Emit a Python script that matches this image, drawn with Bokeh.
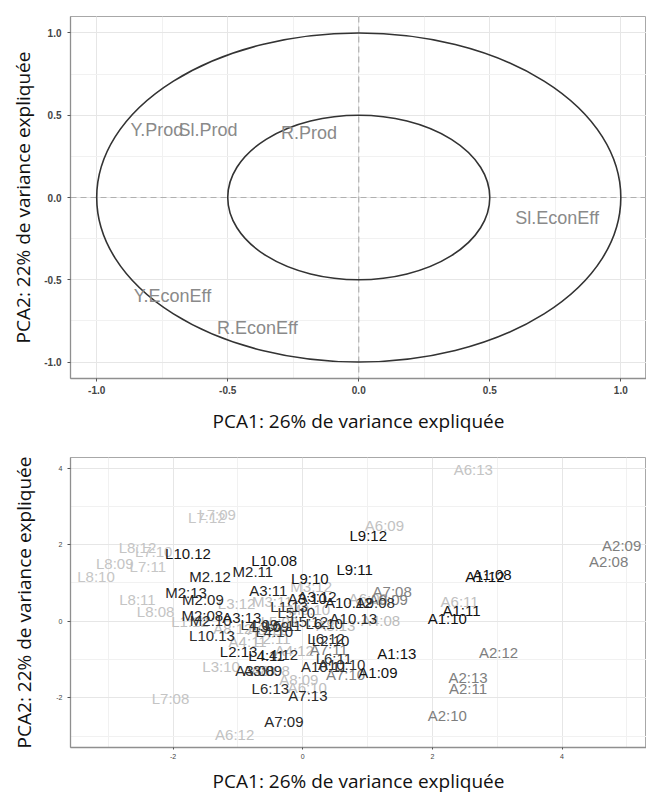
from bokeh.plotting import figure
from bokeh.models import Span, FixedTicker, ColumnDataSource, LinearColorMapper, NumeralTickFormatter
from bokeh.layouts import column
from bokeh.core.properties import value
from bokeh.embed import file_html
from bokeh.resources import INLINE

# ---------------- data ----------------
axis_x_title = "PCA1: 26% de variance expliquée"
axis_y_title = "PCA2: 22% de variance expliquée"

var_labels = ["Y.Prod", "Sl.Prod", "R.Prod", "Sl.EconEff", "Y.EconEff", "R.EconEff"]
var_pc1 = [-0.77, -0.575, -0.19, 0.757, -0.711, -0.387]
var_pc2 = [0.41, 0.41, 0.39, -0.127, -0.60, -0.794]
circle_radii = [1.0, 0.5]

top_ticks = [-1.0, -0.5, 0.0, 0.5, 1.0]
top_minor = [-1.0, -0.75, -0.5, -0.25, 0.0, 0.25, 0.5, 0.75, 1.0]
bot_ticks = [-2, 0, 2, 4]
bot_minor_x = [-3, -1, 1, 3, 5]
bot_minor_y = [-3, -1, 1, 3]

ind_labels = [
    "A6:13", "L7:09", "L7:12", "A6:09", "L9:12", "A2:09", "A2:08", "L8:12", "L7:10", "L10.12",
    "L8:09", "L7:11", "L8:10", "L10.08", "M2.11", "M2.12", "L9:11", "L9:10", "A1:08", "A1:12",
    "M2:13", "M2:09", "L8:11", "L8:08", "M2:08", "L10.13", "A3:11", "M3:12", "A3:10", "A3:12",
    "A7:08", "A10.12", "A9:08", "A9:09", "A6:11", "A1:11", "A1:10", "A10.13", "L6:10", "A4:08",
    "L6:12", "L2:10", "L2:13", "L4:11", "L4:12", "A1:13", "A2:12", "L3:10", "A3:08", "A3:09",
    "A10:11", "A10:10", "A7:10", "A1:09", "A2:13", "A2:11", "A8:09", "L6:13", "A6:10", "A7:13",
    "L7:08", "A2:10", "A7:09", "A6:12", "L3:12", "M3:11", "L1:13", "L5:10", "M3:10", "L1:12",
    "M2:10", "A3:13", "A8:12", "L4:09", "L3:09", "L5:11", "L4:10", "A8:11", "L5:09", "L5:12",
    "A8:13", "L2:11", "A4:11", "A4:12", "A7:11", "A8:08", "L6:11", "A6:08",
]
ind_pc1 = [
    2.63, -1.32, -1.48, 1.26, 1.01, 4.92, 4.72, -2.55, -2.30, -1.77,
    -2.90, -2.39, -3.19, -0.44, -0.77, -1.43, 0.80, 0.11, 2.92, 2.81,
    -1.80, -1.54, -2.55, -2.27, -1.55, -1.40, -0.53, 0.13, 0.07, 0.22,
    1.38, 0.71, 1.12, 1.32, 2.42, 2.45, 2.23, 0.78, 0.33, 1.20,
    0.36, 0.43, -0.99, -0.56, -0.36, 1.45, 3.02, -1.26, -0.74, -0.62,
    0.33, 0.60, 0.66, 1.16, 2.55, 2.55, -0.06, -0.50, 0.07, 0.08,
    -2.04, 2.23, -0.29, -1.05, -1.02, -0.47, -0.21, -0.10, 0.10, -1.74,
    -1.42, -0.94, -1.08, -0.67, -0.50, -0.30, -0.44, -0.56, -0.36, 0.10,
    0.51, -0.47, -0.85, -0.13, 0.40, -0.50, 0.48, 1.01,
]
ind_pc2 = [
    3.96, 2.79, 2.71, 2.51, 2.25, 1.99, 1.57, 1.94, 1.83, 1.78,
    1.52, 1.42, 1.16, 1.60, 1.31, 1.16, 1.34, 1.11, 1.21, 1.16,
    0.74, 0.56, 0.56, 0.25, 0.15, -0.37, 0.80, 0.90, 0.59, 0.64,
    0.77, 0.48, 0.48, 0.56, 0.51, 0.28, 0.07, 0.07, -0.06, 0.02,
    -0.45, -0.50, -0.78, -0.89, -0.86, -0.84, -0.81, -1.17, -1.28, -1.28,
    -1.17, -1.12, -1.38, -1.35, -1.48, -1.77, -1.51, -1.77, -1.74, -1.95,
    -2.03, -2.47, -2.62, -2.96, 0.46, 0.51, 0.38, 0.23, 0.30, -0.01,
    0.02, 0.10, -0.19, -0.09, -0.14, -0.11, -0.27, -0.22, -0.01, -0.01,
    -0.11, -0.45, -0.53, -0.76, -0.73, -1.30, -0.97, 0.59,
]
ind_contrib = [
    0.08, 0.07, 0.07, 0.09, 0.95, 0.42, 0.42, 0.08, 0.07, 0.93,
    0.08, 0.07, 0.07, 0.95, 0.85, 0.86, 0.96, 0.94, 0.96, 0.95,
    0.84, 0.84, 0.08, 0.08, 0.84, 0.82, 0.86, 0.10, 0.88, 0.86,
    0.40, 0.90, 0.80, 0.42, 0.10, 0.95, 0.96, 0.85, 0.82, 0.12,
    0.82, 0.84, 0.92, 0.90, 0.82, 0.96, 0.42, 0.09, 0.82, 0.80,
    0.82, 0.80, 0.40, 0.95, 0.42, 0.42, 0.10, 0.82, 0.10, 0.84,
    0.08, 0.42, 0.84, 0.09, 0.10, 0.10, 0.80, 0.80, 0.10, 0.10,
    0.80, 0.90, 0.12, 0.80, 0.78, 0.80, 0.78, 0.12, 0.12, 0.80,
    0.12, 0.12, 0.12, 0.12, 0.40, 0.12, 0.80, 0.12,
]

# ---------------- styling helpers ----------------
TITLE_FONT = "Open Sans"
LABEL_FONT = "Liberation Sans"


def style(p, xt, xminor, yt, yminor, tick_size, tick_bold, fmt):
    p.xaxis.ticker = FixedTicker(ticks=xt, minor_ticks=xminor)
    p.yaxis.ticker = FixedTicker(ticks=yt, minor_ticks=yminor)
    p.xaxis.formatter = NumeralTickFormatter(format=fmt)
    p.yaxis.formatter = NumeralTickFormatter(format=fmt)
    for g in (p.xgrid, p.ygrid):
        g.grid_line_color = "#e6e6e6"
        g.grid_line_width = 1
        g.minor_grid_line_color = "#f1f1f1"
        g.minor_grid_line_width = 1
    for ax in (p.xaxis, p.yaxis):
        ax.axis_line_color = "#8f8f8f"
        ax.axis_line_width = 1.3
        ax.major_tick_line_color = "#555555"
        ax.major_tick_out = 3
        ax.major_tick_in = 0
        ax.minor_tick_line_color = None
        ax.major_label_text_font = LABEL_FONT
        ax.major_label_text_font_size = tick_size
        ax.major_label_text_font_style = "bold" if tick_bold else "normal"
        ax.major_label_text_color = "#444444"
        ax.axis_label_text_font = TITLE_FONT
        ax.axis_label_text_font_size = "19px"
        ax.axis_label_text_font_style = "normal"
        ax.axis_label_text_color = "#111111"
    p.outline_line_color = "#a8a8a8"
    p.outline_line_width = 1
    p.background_fill_color = "white"
    p.border_fill_color = "white"


# ---------------- top: variables ----------------
p1 = figure(width=646, height=440, x_range=(-1.1, 1.098), y_range=(-1.1, 1.1),
            output_backend="svg", toolbar_location=None,
            min_border_left=70, min_border_right=0, min_border_top=16, min_border_bottom=62)
style(p1, top_ticks, top_minor, top_ticks, top_minor, "10px", True, "0.0")
p1.xaxis.axis_label = axis_x_title
p1.yaxis.axis_label = axis_y_title
p1.xaxis.major_label_standoff = 3
p1.xaxis.axis_label_standoff = 11
p1.yaxis.major_label_standoff = 5
p1.yaxis.axis_label_standoff = 5

for dim in ("width", "height"):
    p1.add_layout(Span(location=0, dimension=dim, line_color="#b0b0b0",
                       line_dash="6 4", line_width=1.2, level="underlay"))

p1.ellipse(x=[0.0] * len(circle_radii), y=[0.0] * len(circle_radii),
           width=[2 * r for r in circle_radii], height=[2 * r for r in circle_radii],
           fill_color=None, line_color="#333333", line_width=1.6)

vsrc = ColumnDataSource(dict(x=var_pc1, y=var_pc2, label=var_labels))
p1.text(x="x", y="y", text="label", source=vsrc, text_color="#8a8a8a",
        text_font=value(LABEL_FONT), text_font_size="18px",
        text_align="center", text_baseline="middle")

# ---------------- bottom: individuals ----------------
p2 = figure(width=646, height=356, x_range=(-3.583, 5.303), y_range=(-3.30, 4.28),
            output_backend="svg", toolbar_location=None,
            min_border_left=64, min_border_right=0, min_border_top=17, min_border_bottom=46)
style(p2, bot_ticks, bot_minor_x, bot_ticks, bot_minor_y, "7px", False, "0")
p2.xaxis.axis_label = axis_x_title
p2.yaxis.axis_label = axis_y_title
p2.xaxis.major_tick_out = 2
p2.xaxis.major_label_standoff = 2
p2.xaxis.axis_label_standoff = 6
p2.yaxis.major_label_standoff = 4
p2.yaxis.axis_label_standoff = 16

grays = ["#%02x%02x%02x" % (g, g, g) for g in
         [int(round(212 - 204 * i / 255)) for i in range(256)]]
mapper = LinearColorMapper(palette=grays, low=0.0, high=1.0)

order = sorted(range(len(ind_labels)), key=lambda i: ind_contrib[i])
isrc = ColumnDataSource(dict(
    x=[ind_pc1[i] for i in order],
    y=[ind_pc2[i] for i in order],
    label=[ind_labels[i] for i in order],
    contrib=[ind_contrib[i] for i in order],
))
p2.text(x="x", y="y", text="label", source=isrc,
        text_color={"field": "contrib", "transform": mapper},
        text_font=value(LABEL_FONT), text_font_size="15px",
        text_align="center", text_baseline="middle")

layout = column(p1, p2, spacing=0)
open("out.html", "w").write(file_html(layout, INLINE))
